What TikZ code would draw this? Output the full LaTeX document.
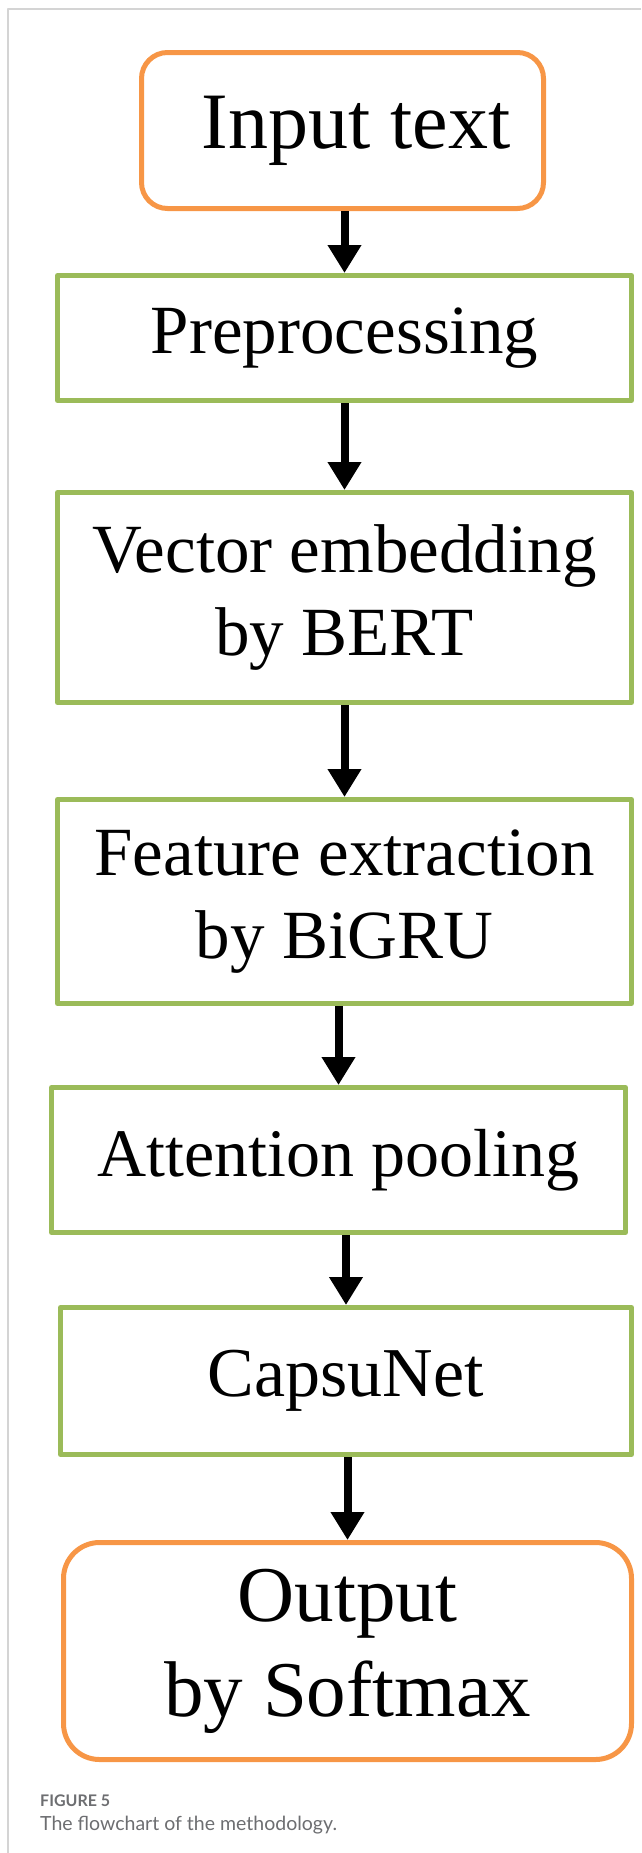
\documentclass[tikz,border=0pt]{standalone}
\usepackage{fontspec}
\setmainfont{Liberation Serif}
\newfontfamily\capfont{Lato}
\usetikzlibrary{arrows.meta}
\definecolor{boxorange}{HTML}{F79646}
\definecolor{boxgreen}{HTML}{9BBB59}
\definecolor{framegray}{HTML}{D4D4D4}
\definecolor{capgray}{HTML}{6D6E71}
\begin{document}
\begin{tikzpicture}[x=1pt,y=-1pt,line join=round,>={Triangle[width=32pt,length=28pt]},
	endbox/.style={draw=boxorange,line width=5pt,align=center,inner sep=0pt},
	stepbox/.style={draw=boxgreen,line width=5pt,align=center,inner sep=0pt},
	flow/.style={->,line width=8pt},
	captext/.style={anchor=base west,inner sep=0pt,text=capgray}]
	\useasboundingbox (0,0) rectangle (641,1853);
	\draw[framegray,line width=1.5pt] (641,9)--(8,9)--(8,1853);
	\node[endbox,rounded corners=26pt,minimum width=402pt,minimum height=156pt,font=\fontsize{80}{96}\selectfont](In) at (342.5,130.5){\hspace*{27pt}Input text};
	\node[stepbox,minimum width=574pt,minimum height=125pt,font=\fontsize{69}{83}\selectfont](Pre) at (344.5,338){Preprocessing};
	\node[stepbox,minimum width=574pt,minimum height=210pt,font=\fontsize{69}{83}\selectfont](Emb) at (344.5,597.5){Vector embedding\\by BERT};
	\node[stepbox,minimum width=574pt,minimum height=204pt,font=\fontsize{69}{83}\selectfont](Fea) at (344.5,901.5){Feature extraction\\by BiGRU};
	\node[stepbox,minimum width=574pt,minimum height=145pt,font=\fontsize{68}{82}\selectfont](Att) at (338.5,1160){Attention pooling};
	\node[stepbox,minimum width=571pt,minimum height=147pt,font=\fontsize{70}{84}\selectfont](Cap) at (346,1381){CapsuNet};
	\node[endbox,rounded corners=36pt,minimum width=568pt,minimum height=217pt,font=\fontsize{79}{95}\selectfont](Out) at (347.5,1651){Output\\by Softmax};
	\draw[flow] (Pre.north |- In.south)--(Pre.north);
	\draw[flow] (Emb.north |- Pre.south)--(Emb.north);
	\draw[flow] (Fea.north |- Emb.south)--(Fea.north);
	\draw[flow] (Att.north |- Fea.south)--(Att.north);
	\draw[flow] (Cap.north |- Att.south)--(Cap.north);
	\draw[flow] (Out.north |- Cap.south)--(Out.north);
	\node[captext,font=\capfont\bfseries\fontsize{16}{19}\selectfont](Fig) at (40,1806){FIGURE 5};
	\node[captext,font=\capfont\fontsize{19.5}{23}\selectfont](Cpt) at (40,1830){The flowchart of the methodology.};
\end{tikzpicture}
\end{document}
